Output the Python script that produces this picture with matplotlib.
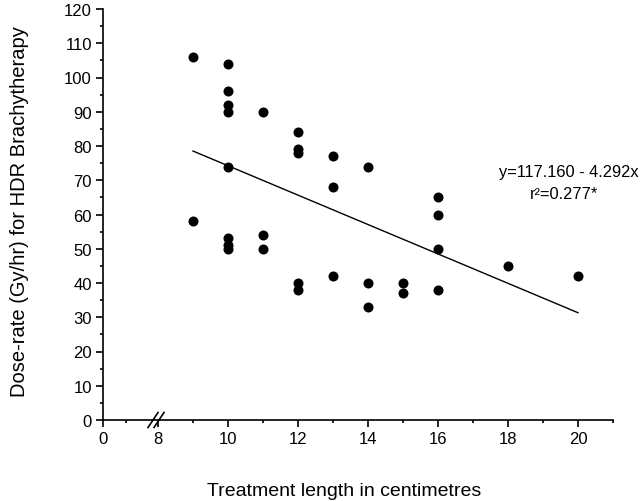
import matplotlib
matplotlib.use("Agg")
import matplotlib.pyplot as plt
import numpy as np
from matplotlib.lines import Line2D

plt.rcParams['font.family'] = ['Liberation Sans', 'DejaVu Sans']

# Data (treatment length cm, dose-rate Gy/hr)
length = [9, 9,
          10, 10, 10, 10, 10, 10, 10, 10,
          11, 11, 11,
          12, 12, 12, 12, 12,
          13, 13, 13,
          14, 14, 14,
          15, 15,
          16, 16, 16, 16,
          18, 20]
dose = [106, 58,
        104, 96, 92, 90, 74, 53, 51, 50,
        90, 54, 50,
        84, 79, 78, 40, 38,
        77, 68, 42,
        74, 40, 33,
        40, 37,
        65, 60, 50, 38,
        45, 42]
intercept = 117.160
slope = -4.292
fit_x = [9, 20]
xtick_vals = [0, 8, 10, 12, 14, 16, 18, 20]
ytick_vals = list(range(0, 121, 10))

# broken-axis scale: compress 0..8 region
K = (55.0 / 35.0) / 8.0
def fwd(x):
    x = np.asarray(x, dtype=float)
    return np.where(x >= 8, x, 8 - (8 - x) * K)
def inv(u):
    u = np.asarray(u, dtype=float)
    return np.where(u >= 8, u, 8 - (8 - u) / K)

fig = plt.figure(figsize=(6.4, 5.02), dpi=100)
ax = fig.add_axes([103/640, 81/502, 510/640, 411/502])
ax.set_xscale('function', functions=(fwd, inv))
ax.set_xlim(0, 21)
ax.set_ylim(0, 120)

ax.scatter(length, dose, s=52, color='black', zorder=3, linewidths=0)
fx = np.array(fit_x, dtype=float)
ax.plot(fx, intercept + slope * fx, color='black', lw=1.0)

for s in ['top', 'right']:
    ax.spines[s].set_visible(False)
for s in ['left', 'bottom']:
    ax.spines[s].set_linewidth(1.2)

ax.set_xticks(xtick_vals)
ax.set_xticklabels([str(v) for v in xtick_vals])
ax.set_xticks([3.35, 9, 11, 13, 15, 17, 19, 21], minor=True)
ax.set_yticks(ytick_vals)
ax.set_yticks(list(range(5, 121, 10)), minor=True)
ax.tick_params(which='major', direction='out', length=5, width=1.2, labelsize=12, pad=3)
ax.tick_params(which='minor', direction='out', length=2.5, width=1.2)

ax.set_xlabel('Treatment length in centimetres', fontsize=14)
ax.set_ylabel('Dose-rate (Gy/hr) for HDR Brachytherapy', fontsize=14.5)
ax.xaxis.set_label_coords(0.4725, -0.152)
ax.xaxis.label.set_va('top')
ax.yaxis.set_label_coords(-0.163, 0.51)
ax.yaxis.label.set_va('center')

ax.text(19.74, 72.7, 'y=117.160 - 4.292x', ha='center', va='center', fontsize=11.8)
ax.text(19.61, 66.0, 'r²=0.277*', ha='center', va='center', fontsize=11.8)

# axis break marks
fig.canvas.draw()
px, py = ax.transData.transform((8, 0))
for dx in (-5.0, 1.0):
    x0, y0 = px + dx - 5, py - 7.5
    x1, y1 = px + dx + 5, py + 7.5
    (a0, b0) = fig.transFigure.inverted().transform((x0, y0))
    (a1, b1) = fig.transFigure.inverted().transform((x1, y1))
    fig.add_artist(Line2D([a0, a1], [b0, b1], transform=fig.transFigure,
                          color='black', lw=1.2))

fig.savefig('out.png', dpi=100)
